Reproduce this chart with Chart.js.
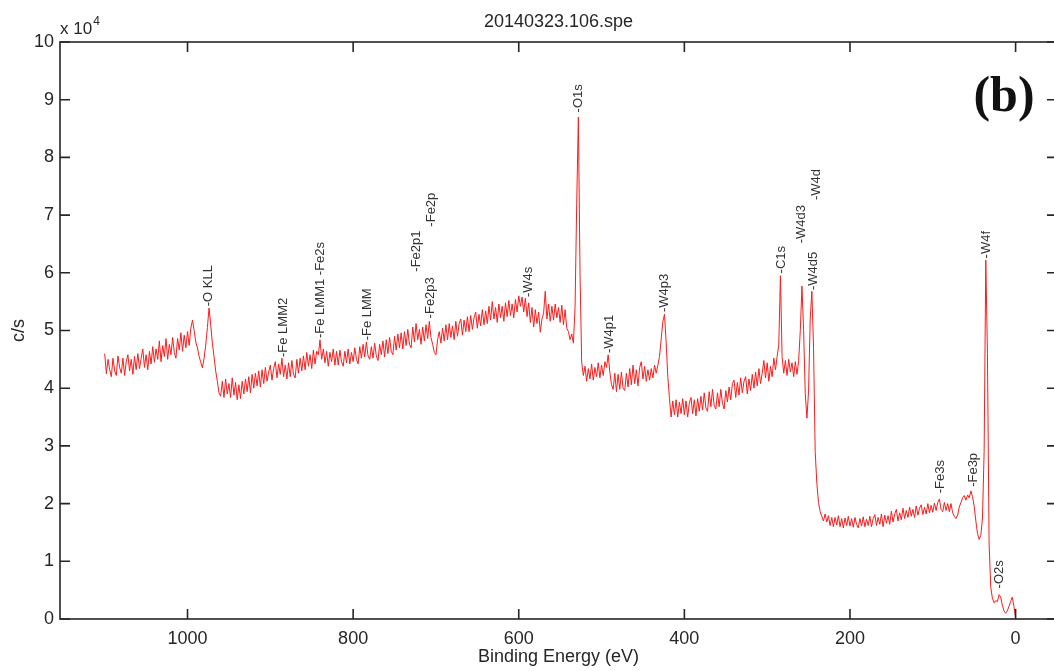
<!DOCTYPE html>
<html>
<head>
<meta charset="utf-8">
<script src="https://cdn.jsdelivr.net/npm/chart.js@4.4.1/dist/chart.umd.min.js"></script>
<style>
  html, body { margin: 0; padding: 0; background: #fff; overflow: hidden; }
  canvas { display: block; }
</style>
</head>
<body>
<canvas id="c" width="1060" height="671"></canvas>
<script>
// XPS survey spectrum, recorded on a 2 eV binding-energy grid from 1100 eV down to 0 eV
const energyStart = 1100;
const energyStep = 2;
// intensity in units of 10^4 counts/s, one value per grid step
const counts = [
  4.60, 4.25, 4.50, 4.32, 4.20, 4.52, 4.30, 4.22, 4.56, 4.36,
  4.26, 4.52, 4.22, 4.46, 4.58, 4.30, 4.50, 4.24, 4.55, 4.32,
  4.60, 4.34, 4.52, 4.68, 4.36, 4.58, 4.32, 4.64, 4.42, 4.72,
  4.45, 4.68, 4.50, 4.82, 4.46, 4.74, 4.55, 4.86, 4.50, 4.76,
  4.58, 4.88, 4.62, 4.52, 4.86, 4.66, 4.96, 4.64, 4.92, 4.70,
  4.98, 4.74, 5.04, 5.18, 5.00, 4.80, 4.70, 4.55, 4.45, 4.35,
  4.52, 4.75, 5.05, 5.39, 5.10, 4.78, 4.55, 4.30, 4.12, 3.92,
  3.86, 4.12, 3.84, 4.16, 3.90, 4.08, 3.84, 4.18, 3.88, 4.10,
  3.80, 4.06, 3.82, 4.12, 3.90, 4.16, 3.94, 4.20, 3.92, 4.24,
  4.00, 4.26, 4.04, 4.30, 4.02, 4.32, 4.08, 4.36, 4.12, 4.28,
  4.40, 4.14, 4.34, 4.46, 4.18, 4.42, 4.24, 4.52, 4.20, 4.40,
  4.16, 4.44, 4.20, 4.48, 4.24, 4.18, 4.50, 4.26, 4.52, 4.30,
  4.56, 4.32, 4.62, 4.38, 4.58, 4.34, 4.66, 4.42, 4.64, 4.58,
  4.84, 4.50, 4.68, 4.44, 4.64, 4.38, 4.62, 4.46, 4.68, 4.40,
  4.64, 4.40, 4.66, 4.46, 4.38, 4.64, 4.44, 4.68, 4.42, 4.62,
  4.46, 4.70, 4.50, 4.42, 4.72, 4.52, 4.76, 4.54, 4.80, 4.56,
  4.50, 4.72, 4.52, 4.78, 4.56, 4.48, 4.76, 4.58, 4.82, 4.54,
  4.84, 4.60, 4.88, 4.64, 4.58, 4.90, 4.66, 4.94, 4.70, 4.96,
  4.68, 4.98, 4.74, 5.02, 4.76, 4.70, 5.06, 4.80, 5.12, 4.84,
  5.02, 4.76, 5.06, 4.82, 5.10, 4.86, 5.16, 4.88, 4.76, 4.62,
  4.58, 4.84, 4.98, 4.78, 5.04, 4.82, 5.10, 4.84, 5.12, 4.88,
  5.08, 4.84, 5.16, 4.90, 5.12, 5.20, 4.92, 5.18, 4.98, 5.24,
  4.98, 5.26, 5.02, 5.22, 5.32, 5.04, 5.28, 5.08, 5.36, 5.10,
  5.34, 5.12, 5.42, 5.18, 5.50, 5.20, 5.40, 5.14, 5.46, 5.22,
  5.42, 5.16, 5.48, 5.24, 5.52, 5.26, 5.46, 5.22, 5.54, 5.32,
  5.60, 5.42, 5.58, 5.32, 5.56, 5.24, 5.48, 5.14, 5.40, 5.06,
  5.36, 5.12, 5.32, 4.97, 5.20, 5.30, 5.68, 5.20, 5.46, 5.16,
  5.42, 5.18, 5.46, 5.22, 5.40, 5.14, 5.44, 5.10, 5.36, 5.04,
  4.98, 4.84, 4.94, 4.78, 5.40, 7.20, 8.70, 6.00, 4.45, 4.22,
  4.38, 4.12, 4.34, 4.16, 4.42, 4.14, 4.36, 4.20, 4.44, 4.18,
  4.40, 4.22, 4.46, 4.36, 4.58, 4.28, 4.06, 3.98, 4.26, 3.94,
  4.24, 3.98, 4.28, 4.00, 3.96, 4.26, 4.02, 4.34, 4.06, 4.40,
  4.08, 4.32, 4.04, 4.36, 4.46, 4.16, 4.38, 4.12, 4.32, 4.14,
  4.34, 4.18, 4.40, 4.26, 4.40, 4.55, 4.85, 5.15, 5.28, 4.80,
  4.20, 3.82, 3.50, 3.78, 3.54, 3.80, 3.50, 3.76, 3.56, 3.82,
  3.54, 3.78, 3.50, 3.74, 3.84, 3.56, 3.80, 3.52, 3.82, 3.60,
  3.86, 3.62, 3.92, 3.66, 3.60, 3.94, 3.68, 3.98, 3.70, 3.64,
  3.92, 3.68, 3.98, 3.74, 3.64, 3.96, 3.76, 4.02, 3.80, 4.08,
  4.14, 3.84, 4.10, 3.88, 4.18, 3.92, 4.12, 4.20, 3.90, 4.16,
  3.96, 4.24, 4.00, 4.28, 4.04, 4.34, 4.08, 4.26, 4.48, 4.18,
  4.44, 4.12, 4.38, 4.20, 4.52, 4.32, 4.55, 4.75, 5.95, 4.55,
  4.26, 4.48, 4.22, 4.50, 4.28, 4.44, 4.20, 4.46, 4.24, 4.48,
  5.00, 5.77, 5.00, 3.90, 3.48, 3.95, 5.20, 5.68, 4.70, 2.90,
  2.35, 2.02, 1.86, 1.78, 1.70, 1.82, 1.68, 1.79, 1.62, 1.76,
  1.60, 1.76, 1.63, 1.79, 1.60, 1.74, 1.58, 1.75, 1.62, 1.78,
  1.61, 1.74, 1.59, 1.76, 1.64, 1.58, 1.74, 1.61, 1.77, 1.60,
  1.73, 1.62, 1.78, 1.60, 1.74, 1.81, 1.62, 1.76, 1.64, 1.82,
  1.60, 1.80, 1.66, 1.79, 1.64, 1.87, 1.68, 1.82, 1.90, 1.70,
  1.84, 1.72, 1.92, 1.74, 1.88, 1.76, 1.94, 1.78, 1.90, 1.76,
  1.96, 1.80, 1.92, 1.98, 1.81, 1.94, 1.82, 2.00, 1.84, 1.97,
  1.85, 2.01, 1.88, 2.02, 2.08, 1.90, 1.86, 2.02, 1.88, 2.00,
  1.86, 2.00, 1.84, 1.78, 1.74, 1.80, 1.94, 2.02, 2.10, 2.14,
  2.06, 2.15, 2.10, 2.22, 2.12, 1.95, 1.70, 1.48, 1.38, 1.45,
  1.75, 2.90, 6.22, 4.60, 1.30, 0.55, 0.36, 0.28, 0.32, 0.30,
  0.42, 0.38, 0.24, 0.14, 0.10, 0.14, 0.22, 0.30, 0.38, 0.22,
  0.02
];
const energy = counts.map((_, i) => energyStart - i * energyStep);

// Axis tick values
const xTicks = [1000, 800, 600, 400, 200, 0];
const yTicks = [0, 1, 2, 3, 4, 5, 6, 7, 8, 9, 10];

// Peak identifications: name, energy (eV), height of label foot (x 10^4 c/s)
const peakNames = ['-O KLL', '-Fe LMM2', '-Fe LMM1 -Fe2s', '-Fe LMM', '-Fe2p1', '-Fe2p3', '-Fe2p',
  '-W4s', '-O1s', '-W4p1', '-W4p3', '-C1s', '-W4d3', '-W4d5', '-W4d', '-Fe3s', '-Fe3p', '-W4f', '-O2s'];
const peakEnergy = [975, 884.5, 840, 783, 724, 706.5, 705,
  588.7, 528.3, 490.8, 423.6, 282.6, 258.5, 244.4, 240.3, 90.6, 51.2, 35, 19];
const peakLabelLevel = [5.42, 4.54, 4.87, 4.83, 6.02, 5.21, 6.80,
  5.58, 8.78, 4.61, 5.32, 5.99, 6.51, 5.70, 7.26, 2.18, 2.29, 6.25, 0.53];

const INK = '#262626';
const SANS = '"Liberation Sans", Arial, sans-serif';

const spectrum = energy.map((e, i) => ({ x: e, y: counts[i] }));

// Boxed axes with inward ticks, title, exponent note, panel tag and peak labels
const framePlugin = {
  id: 'frame',
  afterDraw(chart) {
    const { ctx, chartArea: a, scales: { x, y } } = chart;
    ctx.save();
    ctx.strokeStyle = INK;
    ctx.lineWidth = 1.6;
    ctx.strokeRect(a.left, a.top, a.right - a.left, a.bottom - a.top);
    ctx.beginPath();
    const tl = 10;
    xTicks.forEach(v => {
      const px = x.getPixelForValue(v);
      ctx.moveTo(px, a.bottom); ctx.lineTo(px, a.bottom - tl);
      ctx.moveTo(px, a.top); ctx.lineTo(px, a.top + tl);
    });
    yTicks.forEach(v => {
      const py = y.getPixelForValue(v);
      ctx.moveTo(a.left, py); ctx.lineTo(a.left + tl, py);
      ctx.moveTo(a.right, py); ctx.lineTo(a.right - tl, py);
    });
    ctx.stroke();

    // title
    ctx.fillStyle = INK;
    ctx.font = '18px ' + SANS;
    ctx.textAlign = 'center';
    ctx.textBaseline = 'middle';
    ctx.fillText('20140323.106.spe', (a.left + a.right) / 2, 22);

    // exponent note
    ctx.textAlign = 'left';
    ctx.textBaseline = 'alphabetic';
    ctx.font = '17px ' + SANS;
    ctx.fillText('x 10', a.left, 34);
    const w = ctx.measureText('x 10').width;
    ctx.font = '12px ' + SANS;
    ctx.fillText('4', a.left + w + 1, 25);

    // panel tag
    ctx.font = 'bold 50px "Liberation Serif", "Times New Roman", serif';
    ctx.textAlign = 'center';
    ctx.fillStyle = '#111';
    ctx.fillText('(b)', 1004, 111);

    // peak labels
    ctx.fillStyle = '#333';
    ctx.font = '13px ' + SANS;
    ctx.textAlign = 'left';
    ctx.textBaseline = 'middle';
    peakNames.forEach((name, i) => {
      const px = x.getPixelForValue(peakEnergy[i]);
      const py = y.getPixelForValue(peakLabelLevel[i]);
      ctx.save();
      ctx.translate(px, py);
      ctx.rotate(-Math.PI / 2);
      ctx.fillText(name, 0, 0);
      ctx.restore();
    });
    ctx.restore();
  }
};

new Chart(document.getElementById('c'), {
  type: 'line',
  data: {
    datasets: [{
      data: spectrum,
      borderColor: '#ff1a1a',
      borderWidth: 1,
      pointRadius: 0,
      tension: 0,
      fill: false
    }]
  },
  options: {
    responsive: false,
    animation: false,
    devicePixelRatio: 1,
    layout: { padding: { left: 0, top: 42, right: 3, bottom: 0 } },
    plugins: { legend: { display: false }, tooltip: { enabled: false }, title: { display: false } },
    scales: {
      x: {
        type: 'linear',
        reverse: true,
        min: -50,
        max: 1154,
        afterBuildTicks: s => { s.ticks = xTicks.map(v => ({ value: v })); },
        afterFit: s => { s.height = 52; },
        grid: { display: false, drawTicks: false },
        border: { display: false },
        ticks: { font: { family: SANS, size: 18 }, color: INK, padding: 9, maxRotation: 0, autoSkip: false,
                 callback: v => String(v) },
        title: { display: true, text: 'Binding Energy (eV)', font: { family: SANS, size: 18 }, color: INK, padding: { top: 0, bottom: 3 } }
      },
      y: {
        type: 'linear',
        min: 0,
        max: 10,
        afterBuildTicks: s => { s.ticks = yTicks.map(v => ({ value: v })); },
        afterFit: s => { s.width = 60; },
        grid: { display: false, drawTicks: false },
        border: { display: false },
        ticks: { font: { family: SANS, size: 18 }, color: INK, padding: 6, callback: v => String(v) },
        title: { display: true, text: 'c/s', font: { family: SANS, size: 18 }, color: INK, padding: { top: 8, bottom: 0 } }
      }
    }
  },
  plugins: [framePlugin]
});
</script>
</body>
</html>
